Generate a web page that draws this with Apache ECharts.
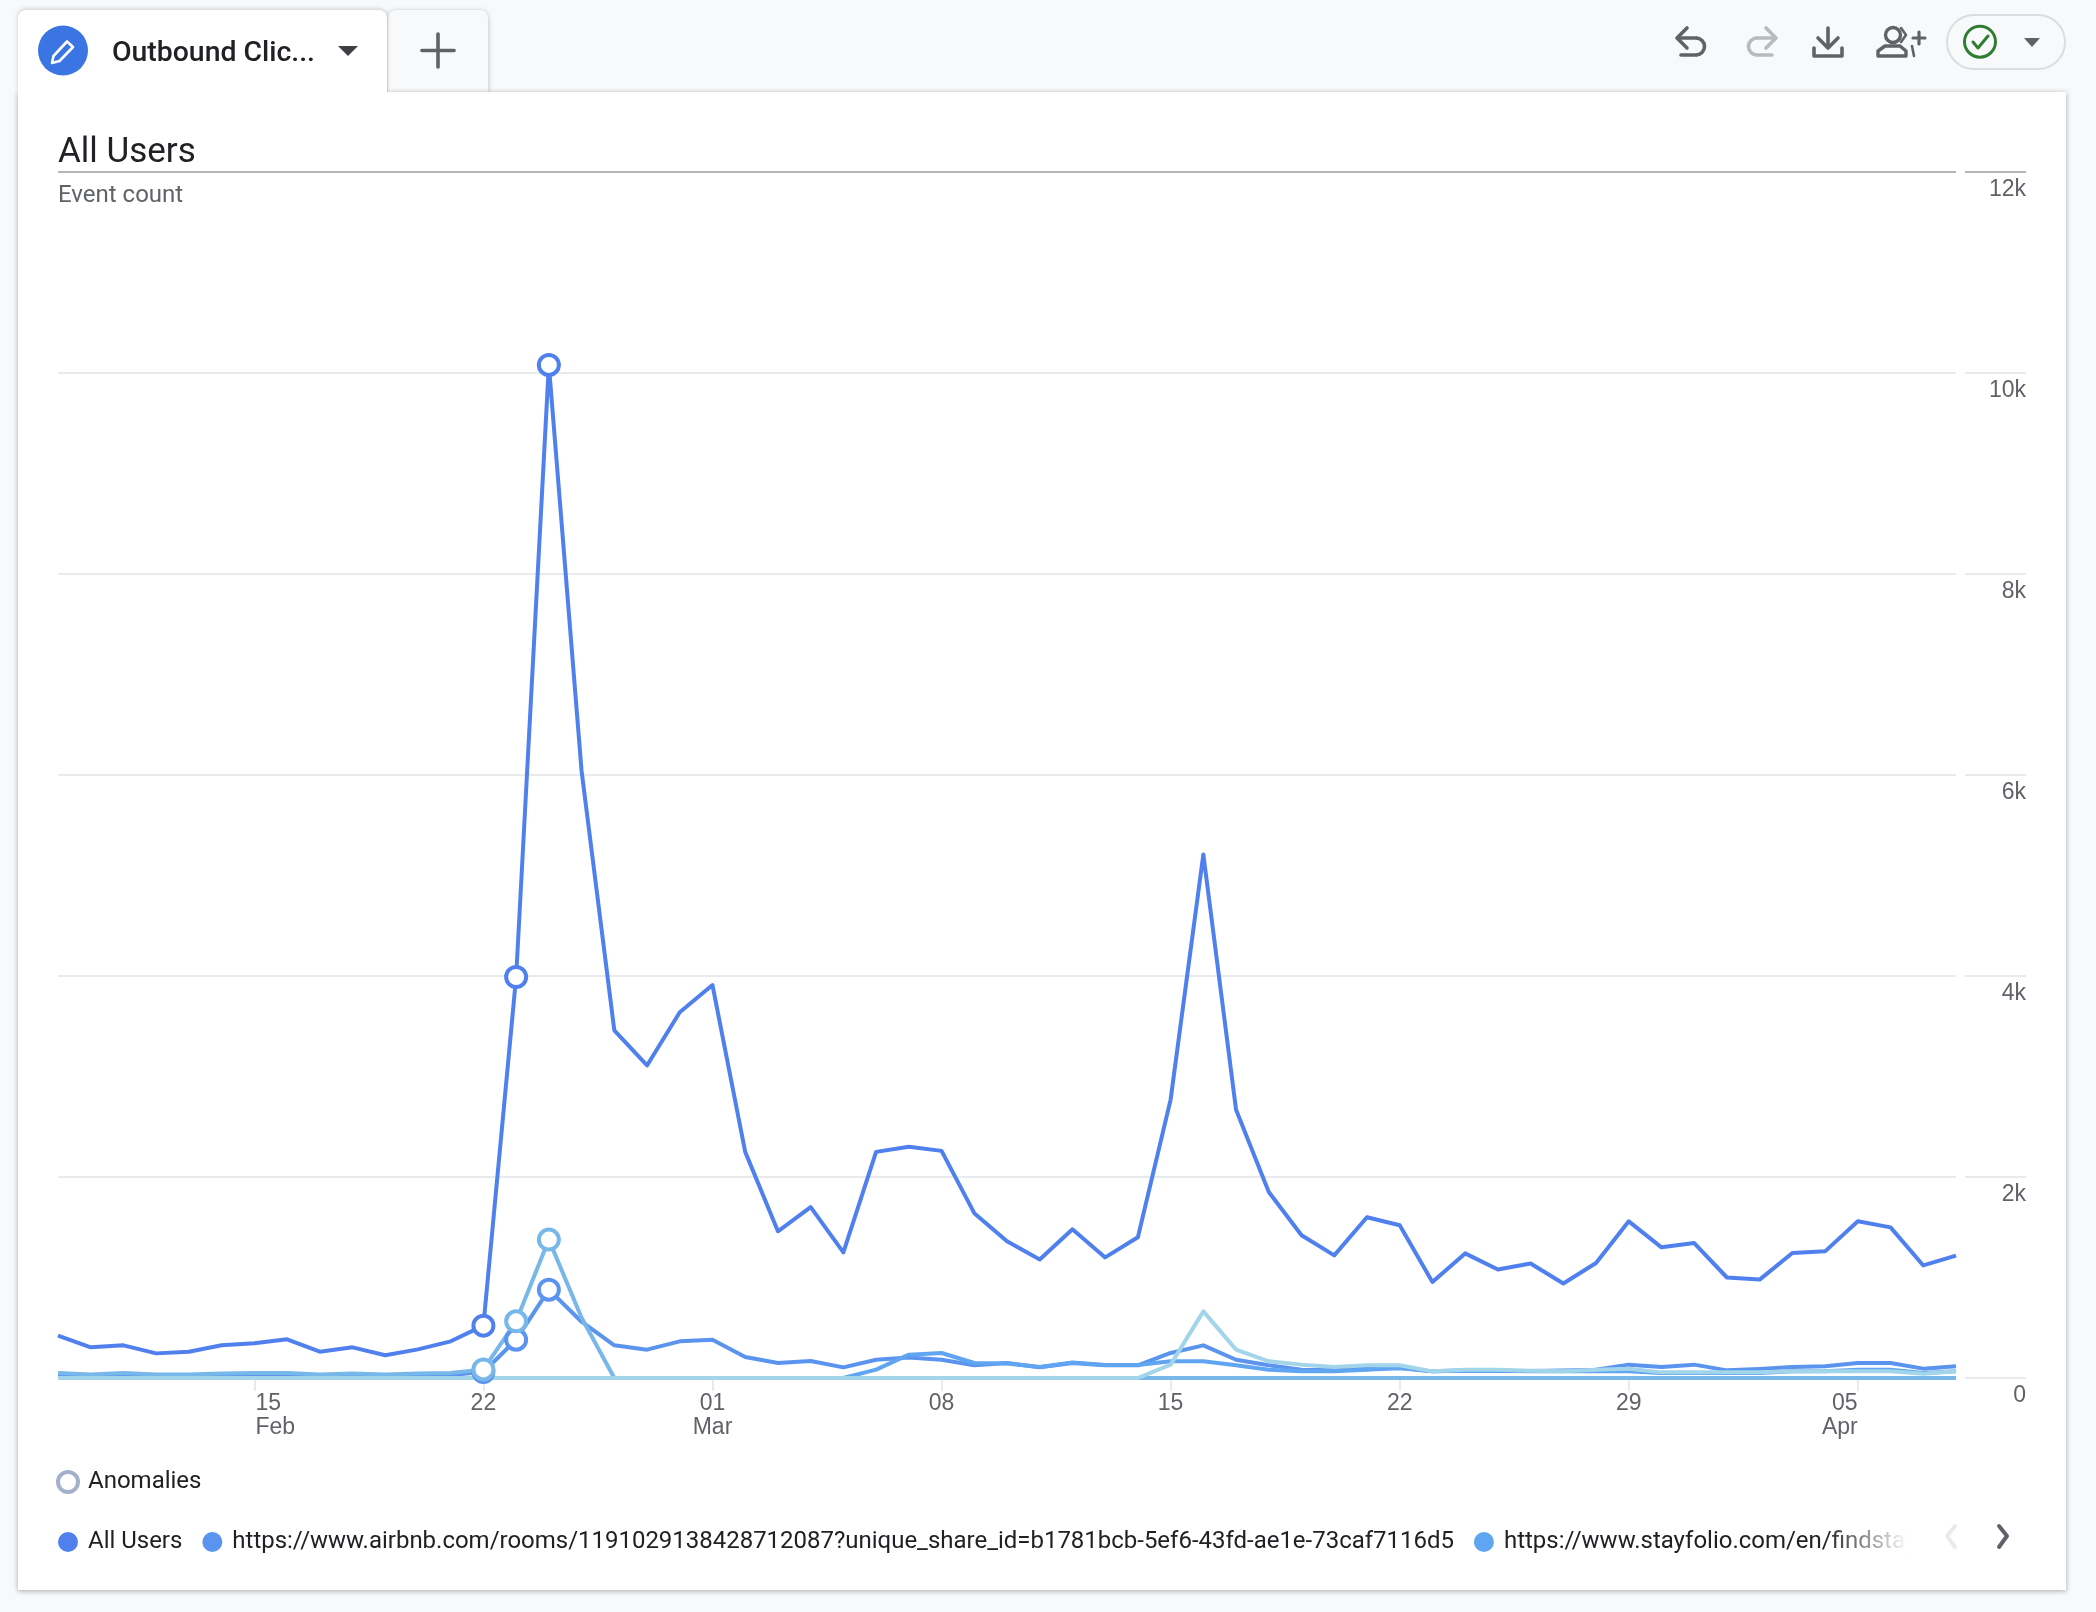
<!DOCTYPE html>
<html><head><meta charset="utf-8">
<style>html,body{margin:0;padding:0;background:#f8f9fa}#c{width:2096px;height:1612px}</style>
<script src="https://cdn.jsdelivr.net/npm/echarts@6/dist/echarts.min.js"></script>
</head><body><div id="c"></div>
<script>
const dates = ['Feb 9','Feb 10','Feb 11','Feb 12','Feb 13','Feb 14','Feb 15','Feb 16','Feb 17','Feb 18','Feb 19','Feb 20','Feb 21','Feb 22','Feb 23','Feb 24','Feb 25','Feb 26','Feb 27','Feb 28',
'Mar 1','Mar 2','Mar 3','Mar 4','Mar 5','Mar 6','Mar 7','Mar 8','Mar 9','Mar 10','Mar 11','Mar 12','Mar 13','Mar 14','Mar 15','Mar 16','Mar 17','Mar 18','Mar 19','Mar 20','Mar 21','Mar 22','Mar 23','Mar 24','Mar 25','Mar 26','Mar 27','Mar 28','Mar 29','Mar 30','Mar 31',
'Apr 1','Apr 2','Apr 3','Apr 4','Apr 5','Apr 6','Apr 7','Apr 8'];
const allUsers = [421,305,325,245,262,325,345,385,262,305,226,285,365,521,3990,10080,6040,3460,3110,3640,3910,2250,1460,1700,1250,2250,2300,2260,1640,1360,1180,1480,1200,1400,2770,5210,2670,1850,1420,1220,1600,1520,955,1240,1080,1140,940,1144,1559,1300,1343,1000,979,1244,1260,1559,1499,1120,1217];
const airbnb = [30,20,30,20,20,30,30,30,20,30,20,30,30,60,381,879,560,325,282,365,381,209,149,170,106,182,205,182,126,149,106,149,126,126,249,325,182,126,83,76,93,100,66,75,70,70,75,83,133,110,133,76,90,110,116,149,149,93,116];
const stayfolio = [0,0,0,0,0,0,0,0,0,0,0,0,0,0,0,0,0,0,0,0,0,0,0,0,0,83,232,249,149,144,110,155,130,130,166,166,126,83,66,66,83,100,66,73,73,66,66,66,66,50,50,50,50,66,66,83,83,50,66];
const linkD = [50,35,50,35,35,45,50,50,35,45,35,45,50,85,564,1377,600,0,0,0,0,0,0,0,0,0,0,0,0,0,0,0,0,0,0,0,0,0,0,0,0,0,0,0,0,0,0,0,0,0,0,0,0,0,0,0,0,0,0];
const linkE = [0,0,0,0,0,0,0,0,0,0,0,0,0,0,0,0,0,0,0,0,0,0,0,0,0,0,0,0,0,0,0,0,0,0,133,663,282,166,133,110,126,126,66,83,83,73,66,83,93,56,56,56,56,66,66,66,66,43,66];
const anomalyDates = {allUsers:['Feb 22','Feb 23','Feb 24'], airbnb:['Feb 22','Feb 23','Feb 24'], linkD:['Feb 22','Feb 23','Feb 24'], linkE:[], stayfolio:[]};
const tickLabels = {'Feb 15':'{a|15}\n{b|Feb}','Feb 22':'22','Mar 1':'{c|01}\n{d|Mar}','Mar 8':'08','Mar 15':'15','Mar 22':'22','Mar 29':'29','Apr 5':'{e|05}\n{f|Apr}'};
const yLabels = {0:'0',2000:'2k',4000:'4k',6000:'6k',8000:'8k',10000:'10k',12000:'12k'};
const legendNames = ['All Users','https://www.airbnb.com/rooms/1191029138428712087?unique_share_id=b1781bcb-5ef6-43fd-ae1e-73caf7116d5','https://www.stayfolio.com/en/findstay'];
const colors = {allUsers:'#4f80ee',airbnb:'#5a94ee',stayfolio:'#5fa5f1',linkD:'#78b7ea',linkE:'#a2d5ea'};

const ROBOTO='Roboto', G='#5f6368';
function mk(name,key,data){
  const a=anomalyDates[key];
  return {type:'line',name,data,xAxisIndex:0,yAxisIndex:0,smooth:false,showSymbol:true,showAllSymbol:true,
    symbol:(v,p)=>a.includes(dates[p.dataIndex])?'circle':'none',symbolSize:20,
    itemStyle:{color:'#fff',borderColor:colors[key],borderWidth:4,opacity:1},
    lineStyle:{color:colors[key],width:4,join:'round',cap:'butt'},emphasis:{disabled:true},silent:true,clip:false};
}
const L=(pts,c,w,z)=>({type:'polyline',z:z||20,shape:{points:pts},style:{stroke:c,lineWidth:w,fill:null,lineCap:'round',lineJoin:'round'},silent:true});
const graphic=[
 {type:'rect',z:-11,shape:{x:388,y:10,width:100,height:82,r:[8,8,0,0]},style:{fill:'#f8f9fa',shadowBlur:5,shadowColor:'rgba(60,64,67,.35)',shadowOffsetY:1}},
 {type:'rect',z:-10,shape:{x:18,y:10,width:369,height:82,r:[8,8,0,0]},style:{fill:'#fff',shadowBlur:4,shadowColor:'rgba(60,64,67,.25)',shadowOffsetY:-1}},
 {type:'rect',z:-9,shape:{x:18,y:92,width:2048,height:1498},style:{fill:'#fff',shadowBlur:5,shadowColor:'rgba(60,64,67,.45)',shadowOffsetY:1}},
 {type:'rect',z:-8,shape:{x:18,y:70,width:369,height:35},style:{fill:'#fff'}},
 {type:'circle',z:20,shape:{cx:63,cy:50.5,r:25},style:{fill:'#3b74e3'}},
 {type:'polygon',z:21,shape:{points:[[52,63],[53.5,56],[67,41.5],[73,47],[59.5,61]]},style:{fill:null,stroke:'#fff',lineWidth:2.6,lineJoin:'round'}},
 {type:'text',z:20,style:{x:112,y:54,text:'Outbound Clic...',font:'500 28.4px Roboto',fill:'#202124',verticalAlign:'middle'}},
 {type:'polygon',z:20,shape:{points:[[338,46],[358,46],[348,56]]},style:{fill:'#3c4043'}},
 L([[438,34],[438,67]],G,3.6),L([[422,50.5],[454,50.5]],G,3.6),
 {type:'text',z:20,style:{x:58,y:153,text:'All Users',font:'400 35px Roboto',fill:'#202124',verticalAlign:'middle'}},
 {type:'text',z:20,style:{x:58,y:196,text:'Event count',font:'400 24px Roboto',fill:G,verticalAlign:'middle'}},
 // toolbar
 L([[1687,28],[1677,38],[1687,48]],G,3.6),L([[1678,38],[1696,38]],G,3.6),L([[1696,55],[1681,55]],G,3.6),
 {type:'arc',z:20,shape:{cx:1696,cy:46.5,r:8.5,startAngle:-Math.PI/2,endAngle:Math.PI/2},style:{stroke:G,lineWidth:3.6,fill:null}},
 L([[1766,28],[1776,38],[1766,48]],'#b8babd',3.6),L([[1775,38],[1757,38]],'#b8babd',3.6),L([[1757,55],[1772,55]],'#b8babd',3.6),
 {type:'arc',z:20,shape:{cx:1757,cy:46.5,r:8.5,startAngle:Math.PI/2,endAngle:Math.PI*1.5},style:{stroke:'#b8babd',lineWidth:3.6,fill:null}},
 L([[1828,28],[1828,47]],G,3.6),L([[1818,38],[1828,48],[1838,38]],G,3.6),L([[1814,48],[1814,56],[1842,56],[1842,48]],G,3.6),
 {type:'circle',z:20,shape:{cx:1893,cy:35,r:7.5},style:{fill:null,stroke:G,lineWidth:3.4}},
 L([[1878,56],[1878,51],[1885,46],[1900,46],[1906,51],[1906,56],[1878,56]],G,3.4),
 L([[1901,28],[1906,35],[1901,42]],G,2.6),L([[1912,46],[1914,56]],G,2.6),
 L([[1919,32],[1919,44]],G,3.2),L([[1913,38],[1925,38]],G,3.2),
 {type:'rect',z:20,shape:{x:1947,y:15,width:118,height:54,r:27},style:{fill:null,stroke:'#dadce0',lineWidth:2}},
 {type:'circle',z:20,shape:{cx:1980,cy:41.7,r:15.5},style:{fill:null,stroke:'#2e7d32',lineWidth:3}},
 L([[1973,42],[1978,48],[1988,36]],'#2e7d32',3),
 {type:'polygon',z:20,shape:{points:[[2024,38],[2040,38],[2032,47]]},style:{fill:G}},
 // legend fade and pager
 {type:'rect',z:50,shape:{x:1825,y:1520,width:83,height:40},style:{fill:new echarts.graphic.LinearGradient(0,0,1,0,[{offset:0,color:'rgba(255,255,255,0)'},{offset:1,color:'#fff'}])}},
 {type:'rect',z:50,shape:{x:1908,y:1520,width:147,height:40},style:{fill:'#fff'}},
 L([[1955,1526],[1947,1536],[1955,1547]],'#e8eaed',4,51),
 L([[1999,1526],[2007,1536],[1999,1547]],G,4,51)
];
const chart=echarts.init(document.getElementById('c'),null,{width:2096,height:1612,devicePixelRatio:1});
chart.setOption({
 animation:false,backgroundColor:'#f8f9fa',
 graphic:{elements:graphic},
 grid:[{left:58,right:140,top:172,bottom:234,containLabel:false},{left:1965,right:70,top:172,bottom:234}],
 xAxis:[
  {type:'category',gridIndex:0,data:dates,boundaryGap:false,
   axisLine:{show:false},
   axisTick:{show:true,length:13,inside:false,interval:(i,v)=>v in tickLabels,lineStyle:{color:'#e8eaed',width:2}},
   splitLine:{show:false},
   axisLabel:{show:true,interval:(i,v)=>v in tickLabels,margin:14,color:G,fontFamily:'Liberation Sans',fontSize:23,lineHeight:24,hideOverlap:false,
    formatter:v=>tickLabels[v]||'',
    rich:{a:{padding:[0,0,0,28],fontSize:23,fontFamily:'Liberation Sans',color:G,lineHeight:24},
          b:{padding:[0,0,0,42],fontSize:23,fontFamily:'Liberation Sans',color:G,lineHeight:24},
          c:{fontSize:23,fontFamily:'Liberation Sans',color:G,lineHeight:24},
          d:{fontSize:23,fontFamily:'Liberation Sans',color:G,lineHeight:24},
          e:{padding:[0,26,0,0],fontSize:23,fontFamily:'Liberation Sans',color:G,lineHeight:24},
          f:{padding:[0,36,0,0],fontSize:23,fontFamily:'Liberation Sans',color:G,lineHeight:24}}}},
  {type:'value',gridIndex:1,min:0,max:1,show:false}
 ],
 yAxis:[
  {type:'value',gridIndex:0,min:0,max:12000,interval:2000,position:'right',
   axisLine:{show:false},axisTick:{show:false},axisLabel:{show:false},
   splitLine:{show:true,lineStyle:{width:2,color:['#e8eaed','#e8eaed','#e8eaed','#e8eaed','#e8eaed','#e8eaed','#b4b6b8']}}},
  {type:'value',gridIndex:1,min:0,max:12000,interval:2000,position:'right',
   axisLine:{show:false},axisTick:{show:false},
   axisLabel:{show:true,inside:true,margin:0,color:G,fontFamily:'Liberation Sans',fontSize:23,verticalAlign:'top',padding:[6,0,0,0],formatter:v=>yLabels[v]},
   splitLine:{show:true,lineStyle:{width:2,color:['#e8eaed','#e8eaed','#e8eaed','#e8eaed','#e8eaed','#e8eaed','#b4b6b8']}}}
 ],
 legend:[
  {left:56,top:1470,padding:0,itemWidth:20,itemHeight:20,icon:'circle',selectedMode:false,
   textStyle:{fontFamily:ROBOTO,fontSize:24,color:'#202124',padding:[0,0,0,5]},
   data:[{name:'Anomalies',itemStyle:{color:'#fff',borderColor:'#a3b1cc',borderWidth:4}}]},
  {left:58,top:1530,padding:0,itemWidth:20,itemHeight:20,itemGap:20,icon:'circle',selectedMode:false,
   textStyle:{fontFamily:ROBOTO,fontSize:23.97,color:'#202124',padding:[0,0,0,5]},
   data:[{name:legendNames[0],itemStyle:{color:colors.allUsers,borderWidth:0}},
         {name:legendNames[1],itemStyle:{color:colors.airbnb,borderWidth:0}},
         {name:legendNames[2],itemStyle:{color:colors.stayfolio,borderWidth:0}}]}
 ],
 series:[
  mk(legendNames[0],'allUsers',allUsers),
  mk(legendNames[1],'airbnb',airbnb),
  mk(legendNames[2],'stayfolio',stayfolio),
  mk('Outbound link 4','linkD',linkD),
  mk('Outbound link 5','linkE',linkE),
  {type:'line',name:'Anomalies',data:[],xAxisIndex:0,yAxisIndex:0}
 ]
});
</script></body></html>
